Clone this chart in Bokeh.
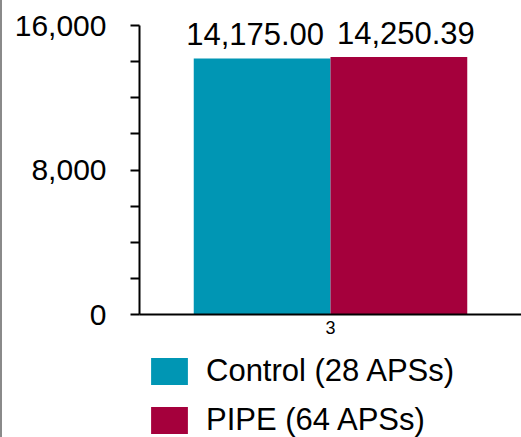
from bokeh.plotting import figure
from bokeh.models import (ColumnDataSource, FactorRange, Range1d, FixedTicker,
                          NumeralTickFormatter, Legend, LegendItem, Div)
from bokeh.transform import dodge
from bokeh.layouts import row, column
from bokeh.core.properties import value
from bokeh.embed import file_html
from bokeh.resources import INLINE

# Data
groups = ["3"]
series = ["Control (28 APSs)", "PIPE (64 APSs)"]
control_vals = [14175.00]
pipe_vals = [14250.39]
colors = ["#0096B4", "#A5003C"]
y_ticks = [0, 8000, 16000]
y_minor = [2000, 4000, 6000, 10000, 12000, 14000]
y_max = 16000

FONT = "Liberation Sans"

src_c = ColumnDataSource(dict(x=groups, top=control_vals,
                              lbl=["{:,.2f}".format(v) for v in control_vals]))
src_p = ColumnDataSource(dict(x=groups, top=pipe_vals,
                              lbl=["{:,.2f}".format(v) for v in pipe_vals]))

# the plotting area runs a little above the top tick so the value labels
# have room; the axis line itself stops at y_max
axis_px, frame_px = 289, 314
p = figure(x_range=FactorRange(*groups, range_padding=0),
           y_range=Range1d(0, y_max * frame_px / axis_px),
           frame_width=382, frame_height=frame_px,
           min_border_left=137, min_border_right=0, min_border_top=0,
           min_border_bottom=0,
           output_backend="svg", toolbar_location=None, title=None)

p.outline_line_color = None
p.xgrid.visible = False
p.ygrid.visible = False
p.background_fill_color = "white"
p.border_fill_color = "white"

bw = 0.358
p.vbar(x=dodge("x", -bw / 2, range=p.x_range), top="top", width=bw,
       source=src_c, fill_color=colors[0], line_color=None)
p.vbar(x=dodge("x", bw / 2, range=p.x_range), top="top", width=bw,
       source=src_p, fill_color=colors[1], line_color=None)

# value labels above bars
p.text(x=dodge("x", -bw / 2, range=p.x_range), y="top", text="lbl", source=src_c,
       text_align="center", text_baseline="bottom", x_offset=-7, y_offset=-13,
       text_font=value(FONT), text_font_size="31px", text_color="black")
p.text(x=dodge("x", bw / 2, range=p.x_range), y="top", text="lbl", source=src_p,
       text_align="center", text_baseline="bottom", x_offset=7, y_offset=-13,
       text_font=value(FONT), text_font_size="31px", text_color="black")

# y axis
ya = p.yaxis[0]
ya.bounds = (0, y_max)
ya.ticker = FixedTicker(ticks=y_ticks, minor_ticks=y_minor)
ya.formatter = NumeralTickFormatter(format="0,0")
ya.axis_line_width = 2
ya.axis_line_color = "black"
ya.major_tick_out = 9
ya.major_tick_in = 0
ya.minor_tick_out = 9
ya.minor_tick_in = 0
ya.major_tick_line_width = 2
ya.minor_tick_line_width = 2
ya.major_tick_line_color = "black"
ya.minor_tick_line_color = "black"
ya.major_label_text_font = FONT
ya.major_label_text_font_size = "30px"
ya.major_label_text_color = "black"
ya.major_label_standoff = 24

# x axis
xa = p.xaxis[0]
xa.axis_line_width = 2
xa.axis_line_color = "black"
xa.major_tick_line_color = None
xa.major_tick_out = 0
xa.major_tick_in = 0
xa.minor_tick_line_color = None
xa.major_label_text_font = FONT
xa.major_label_text_font_size = "18px"
xa.major_label_text_color = "black"
xa.major_label_standoff = 6

# legend strip below the chart
lg = figure(frame_width=382, frame_height=102,
            x_range=Range1d(0, 1), y_range=Range1d(0, 1),
            x_axis_location=None, y_axis_location=None,
            min_border_left=137, min_border_right=0, min_border_top=0,
            min_border_bottom=0,
            output_backend="svg", toolbar_location=None, title=None)
lg.grid.visible = False
lg.outline_line_color = None
lg.background_fill_color = "white"
lg.border_fill_color = "white"
keys = ColumnDataSource(dict(x=[-5], top=[0]))
k_c = lg.vbar(x="x", top="top", width=0.1, source=keys,
              fill_color=colors[0], line_color=None)
k_p = lg.vbar(x="x", top="top", width=0.1, source=keys,
              fill_color=colors[1], line_color=None)

legend = Legend(items=[LegendItem(label=series[0], renderers=[k_c]),
                       LegendItem(label=series[1], renderers=[k_p])],
                location=(7, 0), orientation="vertical",
                glyph_width=46, glyph_height=34, label_height=34,
                spacing=13, padding=0, margin=0, label_standoff=14,
                border_line_color=None, background_fill_alpha=0,
                label_text_font=FONT, label_text_font_size="31px",
                label_text_color="black")
lg.add_layout(legend, "center")

edge = Div(width=2, height=437, margin=0,
           styles={"background-color": "#8a8a8a"})

layout = row(edge, column(p, lg, spacing=0), spacing=0)

open("out.html", "w").write(file_html(layout, INLINE))
